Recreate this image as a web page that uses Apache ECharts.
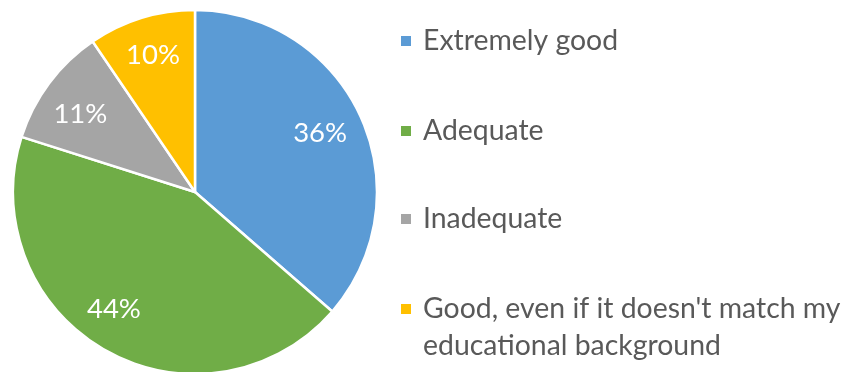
<!DOCTYPE html>
<html>
<head>
<meta charset="utf-8">
<script src="https://cdn.jsdelivr.net/npm/echarts@6/dist/echarts.min.js"></script>
<style>
  html, body { margin: 0; padding: 0; background: #fff; }
  #chart { width: 845px; height: 372px; }
</style>
</head>
<body>
<div id="chart"></div>
<script>
// slice shares (labels show them rounded)
const categories = [
  'Extremely good',
  'Adequate',
  'Inadequate',
  'Good, even if it doesn\'t match my\neducational background'
]
const shares = [36.4, 43.5, 10.6, 9.5]
const colors = ['#5B9BD5', '#70AD47', '#A5A5A5', '#FFC000']

// layout bits: legend row tops and small label nudges (px)
const legendTops = [22.5, 112.5, 200.5, 253.5]
const labelNudge = [[-5, 0], [-11, -8], [0, 8], [0, 0]]

const FONT = 'Lato, Carlito, "Open Sans", sans-serif'
const CENTER = [195, 192]
const R = 182
const LINE_H = 37

const slices = categories.map((name, i) => ({
  name,
  value: shares[i],
  itemStyle: { color: colors[i] }
}))

const legends = categories.map((name, i) => {
  const multiLine = name.indexOf('\n') >= 0
  return {
    left: 399,
    top: legendTops[i],
    orient: 'vertical',
    padding: 0,
    icon: 'rect',
    itemWidth: 12,
    itemHeight: 12,
    selectedMode: false,
    data: [name],
    // a leading blank line keeps the marker level with the first line
    formatter: n => (multiLine ? '\n' + n : n),
    textStyle: {
      fontFamily: FONT,
      fontSize: 28.4,
      color: '#595959',
      lineHeight: LINE_H,
      padding: [0, 0, 0, 6]
    }
  }
})

const chart = echarts.init(document.getElementById('chart'))
chart.setOption({
  animation: false,
  backgroundColor: '#fff',
  legend: legends,
  series: [
    {
      type: 'pie',
      center: CENTER,
      radius: R,
      startAngle: 90,
      clockwise: true,
      data: slices,
      label: { show: false },
      labelLine: { show: false },
      itemStyle: { borderColor: '#fff', borderWidth: 2.5 },
      emphasis: { disabled: true }
    },
    {
      // label ring: puts the percentages out toward the rim like the original
      type: 'pie',
      center: CENTER,
      radius: [98, R],
      startAngle: 90,
      clockwise: true,
      silent: true,
      data: slices.map((s, i) => ({
        name: s.name,
        value: s.value,
        label: { offset: labelNudge[i] }
      })),
      itemStyle: { color: 'rgba(0,0,0,0)', borderWidth: 0 },
      label: {
        show: true,
        position: 'inside',
        formatter: p => Math.round(p.value) + '%',
        color: '#fff',
        fontFamily: FONT,
        fontSize: 27.5
      },
      labelLine: { show: false },
      emphasis: { disabled: true }
    }
  ]
})
</script>
</body>
</html>
